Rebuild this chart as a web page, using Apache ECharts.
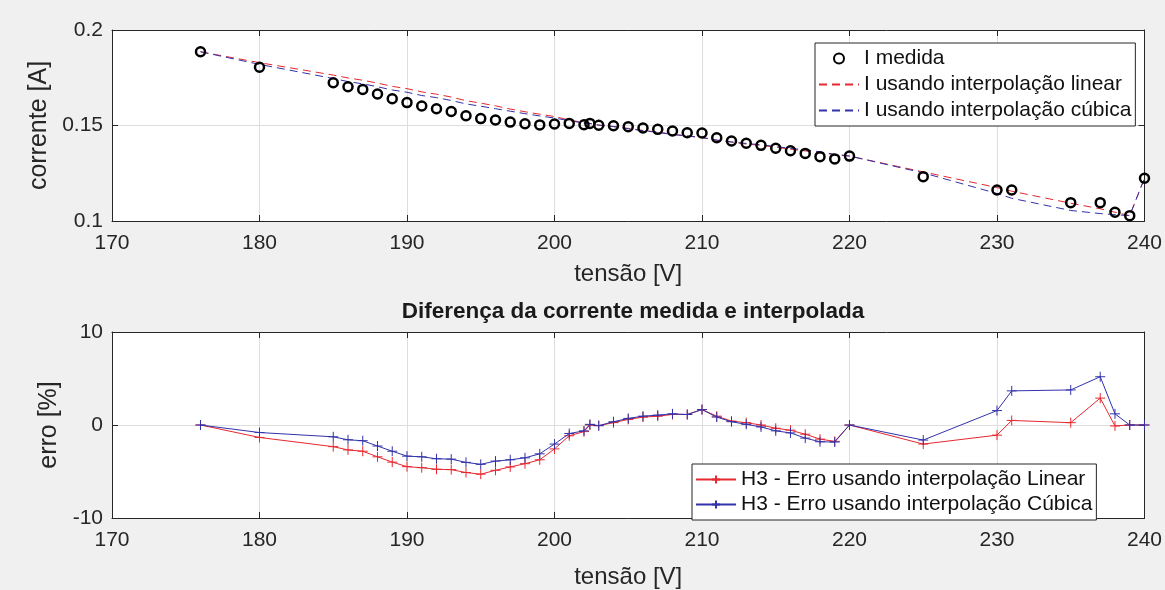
<!DOCTYPE html>
<html>
<head>
<meta charset="utf-8">
<script src="https://cdn.jsdelivr.net/npm/echarts@6/dist/echarts.min.js"></script>
<style>
html,body{margin:0;padding:0;background:#f0f0f0;}
#c{width:1165px;height:590px;}
</style>
</head>
<body>
<div id="c"></div>
<script>
// tensão [V]
var tensao = [176,180,185,186,187,188,189,190,191,192,193,194,195,196,197,198,199,200,201,202,202.4,203,204,205,206,207,208,209,210,211,212,213,214,215,216,217,218,219,220,225,230,231,235,237,238,239,240];
// I medida [A]
var iMedida = [0.1886,0.1805,0.1724,0.1703,0.1689,0.1665,0.1640,0.1620,0.1602,0.1588,0.1573,0.1551,0.1536,0.1529,0.1518,0.1509,0.1503,0.1508,0.1511,0.1504,0.1511,0.1501,0.1499,0.1494,0.1487,0.1480,0.1471,0.1462,0.1461,0.1436,0.1419,0.1407,0.1396,0.1381,0.1368,0.1354,0.1337,0.1325,0.1340,0.1232,0.1162,0.1162,0.1096,0.1096,0.1046,0.1028,0.1224];
// I usando interpolação linear [A]
var iLinear = [0.1886,0.1829,0.1764,0.1749,0.1737,0.1722,0.1705,0.1693,0.1676,0.1664,0.1649,0.1630,0.1617,0.1603,0.1586,0.1572,0.1559,0.1547,0.1529,0.1515,0.1511,0.1502,0.1495,0.1485,0.1474,0.1466,0.1454,0.1445,0.1437,0.1422,0.1413,0.1403,0.1396,0.1386,0.1376,0.1367,0.1357,0.1348,0.1340,0.1257,0.1175,0.1156,0.1093,0.1064,0.1046,0.1028,0.1224];
// I usando interpolação cúbica [A]
var iCubica = [0.1886,0.1820,0.1746,0.1730,0.1718,0.1703,0.1686,0.1674,0.1657,0.1646,0.1631,0.1613,0.1601,0.1588,0.1575,0.1562,0.1550,0.1539,0.1525,0.1513,0.1510,0.1502,0.1494,0.1483,0.1473,0.1464,0.1453,0.1445,0.1437,0.1424,0.1414,0.1406,0.1399,0.1390,0.1380,0.1373,0.1362,0.1349,0.1340,0.1252,0.1144,0.1119,0.1055,0.1039,0.1033,0.1028,0.1224];
// H3 - Erro usando interpolação Linear [%]
var erroLinear = [0,-1.34,-2.33,-2.68,-2.82,-3.42,-3.99,-4.48,-4.59,-4.76,-4.80,-5.11,-5.29,-4.87,-4.51,-4.16,-3.74,-2.57,-1.16,-0.71,0,-0.07,0.25,0.60,0.85,0.95,1.13,1.13,1.66,0.95,0.42,0.25,0,-0.35,-0.56,-0.99,-1.52,-1.76,0,-2.05,-1.09,0.49,0.25,2.89,-0.1,0,0];
// H3 - Erro usando interpolação Cúbica [%]
var erroCubica = [0,-0.81,-1.27,-1.59,-1.69,-2.26,-2.82,-3.35,-3.42,-3.63,-3.67,-4.02,-4.23,-3.88,-3.74,-3.53,-3.10,-2.05,-0.92,-0.63,0.07,-0.07,0.35,0.71,0.95,1.06,1.20,1.13,1.66,0.85,0.35,0.07,-0.21,-0.63,-0.85,-1.41,-1.80,-1.83,0,-1.62,1.55,3.67,3.77,5.19,1.20,0,0];

var xTicks = [170,240,10];
var yTopTicks = [0.1,0.2,0.05];
var yBotTicks = [-10,10,10];

function pairs(xs, ys){ return xs.map(function(x,i){ return [x, ys[i]]; }); }

var FONT = "'Liberation Sans', Arial, sans-serif";
var AX = '#262626';
var GRID = '#dedede';
var RED = '#e6282f';
var BLUE = '#3232aa';
var plus = 'path://M5,0L5,10M0,5L10,5';

function xAx(gi, pos, labels, name, gap){
  return {
    type:'value', gridIndex:gi, position:pos, min:xTicks[0], max:xTicks[1], interval:xTicks[2],
    axisLine:{show:true, onZero:false, lineStyle:{color:AX, width:1}},
    axisTick:{show:true, inside:true, length:6, lineStyle:{color:AX}},
    axisLabel:{show:labels, margin:12, fontSize:21, color:AX, fontFamily:FONT},
    splitLine:{show:pos==='bottom', lineStyle:{color:GRID, width:1}},
    name: name || '', nameLocation:'middle', nameGap:gap || 0,
    nameTextStyle:{fontSize:24, color:AX, fontFamily:FONT}
  };
}
function yAx(gi, pos, t, labels, name, gap){
  return {
    type:'value', gridIndex:gi, position:pos, min:t[0], max:t[1], interval:t[2],
    axisLine:{show:true, onZero:false, lineStyle:{color:AX, width:1}},
    axisTick:{show:true, inside:true, length:6, lineStyle:{color:AX}},
    axisLabel:{show:labels, margin:9, fontSize:21, color:AX, fontFamily:FONT},
    splitLine:{show:pos==='left', lineStyle:{color:GRID, width:1}},
    name: name || '', nameLocation:'middle', nameGap:gap || 0, nameRotate:90,
    nameTextStyle:{fontSize:25, color:AX, fontFamily:FONT}
  };
}

var noSym = {color:'rgba(0,0,0,0)', borderWidth:0};

var chart = echarts.init(document.getElementById('c'), null, {renderer:'canvas'});
chart.setOption({
  backgroundColor:'#f0f0f0',
  animation:false,
  textStyle:{fontFamily:FONT},
  title:{
    text:'Diferença da corrente medida e interpolada',
    left:628, top:295, textAlign:'center',
    textStyle:{fontSize:22.5, fontWeight:'bold', color:'#1a1a1a', fontFamily:FONT}
  },
  grid:[
    {left:112, top:30, width:1033, height:191, show:true, backgroundColor:'#fff', borderWidth:0},
    {left:112, top:332, width:1033, height:189, show:true, backgroundColor:'#fff', borderWidth:0}
  ],
  xAxis:[
    xAx(0,'bottom',true,'tensão [V]',41),
    xAx(0,'top',false),
    xAx(1,'bottom',true,'tensão [V]',47),
    xAx(1,'top',false)
  ],
  yAxis:[
    yAx(0,'left',yTopTicks,true,'corrente [A]',57),
    yAx(0,'right',yTopTicks,false),
    yAx(1,'left',yBotTicks,true,'erro [%]',46),
    yAx(1,'right',yBotTicks,false)
  ],
  legend:[
    {
      data:[
        {name:'I medida'},
        {name:'I usando interpolação linear', itemStyle:noSym},
        {name:'I usando interpolação cúbica', itemStyle:noSym}
      ],
      orient:'vertical', left:815, top:43, padding:[5,4,5,3], itemGap:5,
      itemWidth:40, itemHeight:10, backgroundColor:'#fff', borderColor:AX, borderWidth:1,
      textStyle:{fontSize:21, color:'#111', fontFamily:FONT, lineHeight:21}
    },
    {
      data:['H3 - Erro usando interpolação Linear','H3 - Erro usando interpolação Cúbica'],
      orient:'vertical', left:692, top:464, padding:[5,4,5,3], itemGap:4,
      itemWidth:40, itemHeight:10, backgroundColor:'#fff', borderColor:AX, borderWidth:1,
      textStyle:{fontSize:21, color:'#111', fontFamily:FONT, lineHeight:21}
    }
  ],
  series:[
    {
      name:'I usando interpolação linear', type:'line', xAxisIndex:0, yAxisIndex:0,
      data:pairs(tensao,iLinear), symbol:'none', clip:false,
      lineStyle:{color:RED, width:1, type:[8,5]}, itemStyle:{color:RED}, z:3
    },
    {
      name:'I usando interpolação cúbica', type:'line', xAxisIndex:0, yAxisIndex:0,
      data:pairs(tensao,iCubica), symbol:'none', clip:false,
      lineStyle:{color:BLUE, width:1, type:[8,5]}, itemStyle:{color:BLUE}, z:3
    },
    {
      name:'I medida', type:'scatter', xAxisIndex:0, yAxisIndex:0,
      data:pairs(tensao,iMedida), symbol:'circle', symbolSize:9, clip:false,
      itemStyle:{color:'rgba(255,255,255,0)', borderColor:'#000', borderWidth:2.5, opacity:1}, z:4
    },
    {
      name:'H3 - Erro usando interpolação Linear', type:'line', xAxisIndex:2, yAxisIndex:2,
      data:pairs(tensao,erroLinear), symbol:plus, symbolSize:10, showAllSymbol:true, clip:false,
      lineStyle:{color:RED, width:1}, itemStyle:{color:RED, borderColor:RED, borderWidth:1}, z:3
    },
    {
      name:'H3 - Erro usando interpolação Cúbica', type:'line', xAxisIndex:2, yAxisIndex:2,
      data:pairs(tensao,erroCubica), symbol:plus, symbolSize:10, showAllSymbol:true, clip:false,
      lineStyle:{color:BLUE, width:1}, itemStyle:{color:BLUE, borderColor:BLUE, borderWidth:1}, z:4
    }
  ]
});
</script>
</body>
</html>
